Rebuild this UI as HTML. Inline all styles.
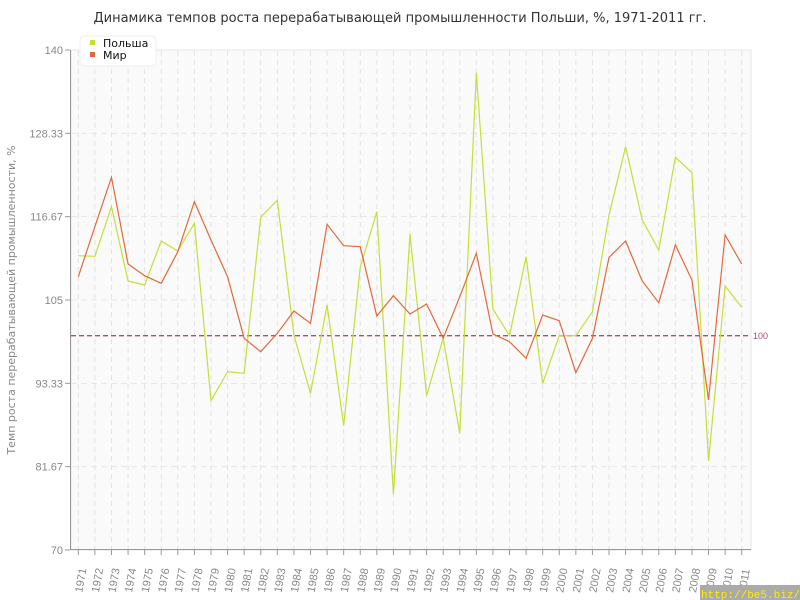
<!DOCTYPE html>
<html><head><meta charset="utf-8"><style>
body{margin:0;background:#fff;width:800px;height:600px;overflow:hidden}
svg{display:block;font-family:"Liberation Sans","DejaVu Sans",sans-serif}
</style></head><body>
<svg id="s" width="800" height="600" xmlns="http://www.w3.org/2000/svg">
<rect width="800" height="600" fill="#fff"/>
<text x="400" y="22" text-anchor="middle" font-size="13" fill="#333" font-family="DejaVu Sans, sans-serif">Динамика темпов роста перерабатывающей промышленности Польши, %, 1971-2011 гг.</text>
<rect x="71" y="50" width="680" height="500" fill="#fafafa" stroke="#e6e6e6"/>
<g id="grid"></g>
<line x1="70.5" y1="50" x2="70.5" y2="550" stroke="#999"/>
<line x1="70" y1="549.5" x2="751" y2="549.5" stroke="#999"/>
<line x1="71" y1="335.7" x2="751" y2="335.7" stroke="#b05070" stroke-width="1.3" stroke-dasharray="5,3"/>
<text x="753" y="339" font-size="9" fill="#a05070">100</text>
<polyline id="pl" fill="none" stroke="#c4df3a" stroke-width="1.2"/>
<polyline id="mr" fill="none" stroke="#e4683a" stroke-width="1.2"/>
<g id="lab" font-size="11" fill="#888"></g>
<text transform="translate(15,300) rotate(-90)" text-anchor="middle" font-size="11" fill="#888" font-family="DejaVu Sans, sans-serif">Темп роста перерабатывающей промышленности, %</text>
<rect x="80" y="36" width="76" height="30" rx="4" fill="#fff" stroke="#eee"/>
<rect x="90" y="40" width="5" height="5" fill="#c4df3a"/>
<rect x="90" y="52" width="5" height="5" fill="#e4683a"/>
<text x="103" y="47" font-size="11" fill="#111" font-family="DejaVu Sans, sans-serif">Польша</text>
<text x="103" y="59" font-size="11" fill="#111" font-family="DejaVu Sans, sans-serif">Мир</text>
<rect x="700" y="585" width="100" height="15" fill="#aaa"/>
<text x="701" y="598" font-size="11" fill="#ffee00" font-family="Liberation Mono, monospace">http://be5.biz/</text>
</svg>
<script>
var P=[255.7,256.3,206.7,281,285,241,251,223.3,400.7,371.7,373.3,217,200.3,335,393.3,305,425.7,267.3,211.7,494.3,234,395.7,338.3,433.3,72.7,309,335.7,256.7,383.3,335.7,335.7,311.7,215,146.7,220,250,157.3,172.7,461,286,307.3];
var M=[276.7,226.7,177.3,264,275.7,283.3,251.7,201.7,240,276.7,338.3,351.7,333.3,311,323.3,224.3,245.7,246.7,316,295.7,314,304,338.3,296.7,253.3,334,341.7,358.3,315,320.7,372.7,338.3,257.3,241,281,302.7,245,280,400,235,264];
var ns="http://www.w3.org/2000/svg",g=document.getElementById('grid'),lab=document.getElementById('lab');
function el(t,a,p,txt){var e=document.createElementNS(ns,t);for(var k in a)e.setAttribute(k,a[k]);if(txt)e.textContent=txt;p.appendChild(e);return e;}
function X(i){return 78.3+i*16.585;}
for(var i=0;i<41;i++){var x=X(i);
el('line',{x1:x,y1:51,x2:x,y2:549,stroke:'#e2e2e2','stroke-dasharray':'5,4'},g);
el('line',{x1:x,y1:550,x2:x,y2:555,stroke:'#999'},g);
el('text',{transform:'translate('+(x+4)+',593) rotate(-80)'},lab,String(1971+i));}
var yl=['140','128.33','116.67','105','93.33','81.67','70'];
for(var j=0;j<7;j++){var y=50+j*83.33;
if(j>0&&j<6)el('line',{x1:71,y1:y,x2:751,y2:y,stroke:'#e6e6e6','stroke-dasharray':'6,4'},g);
el('line',{x1:65,y1:y,x2:70,y2:y,stroke:'#999'},g);
el('text',{x:63,y:y+4,'text-anchor':'end'},lab,yl[j]);}
document.getElementById('pl').setAttribute('points',P.map(function(v,i){return X(i)+','+v}).join(' '));
document.getElementById('mr').setAttribute('points',M.map(function(v,i){return X(i)+','+v}).join(' '));
</script>
</body></html>
